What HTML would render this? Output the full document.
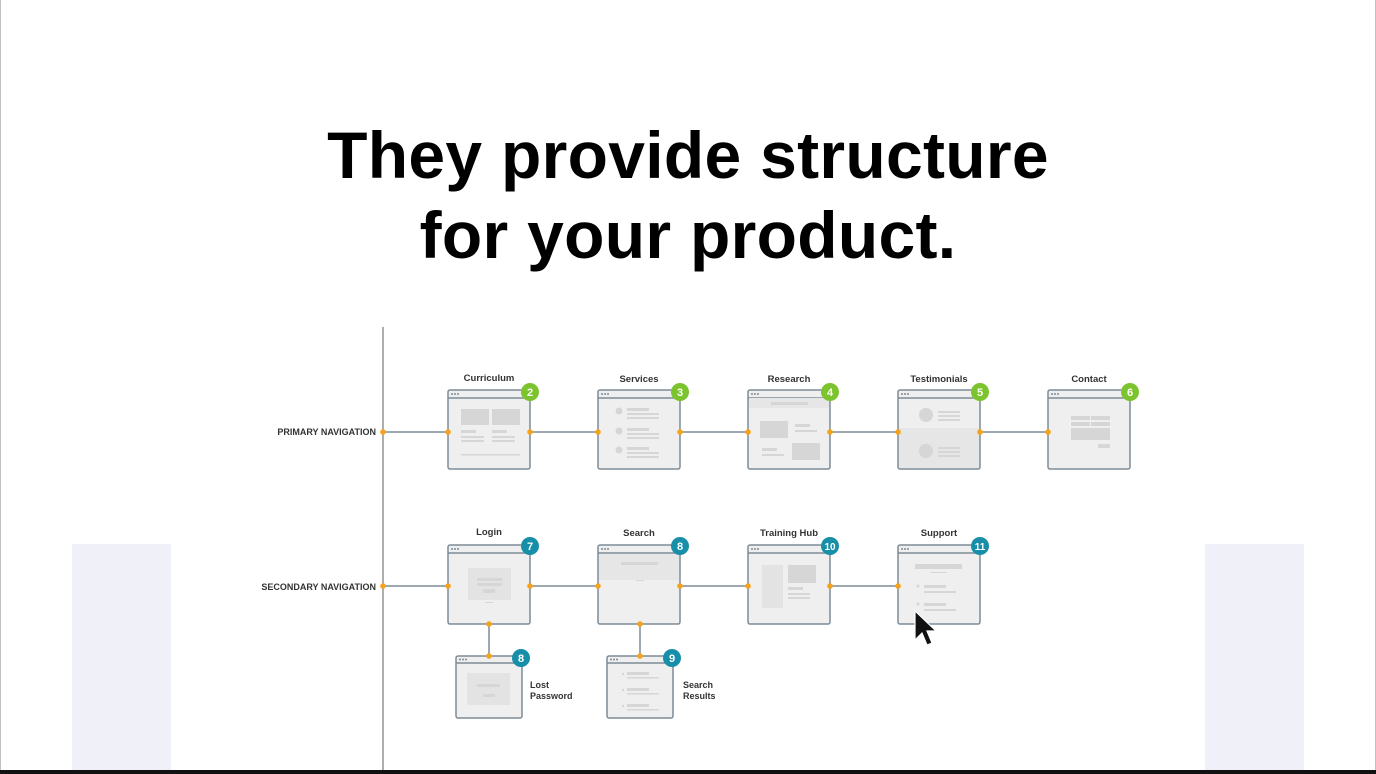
<!DOCTYPE html>
<html><head><meta charset="utf-8"><style>
html,body{margin:0;padding:0;background:#fff}
body{width:1376px;height:774px;position:relative;overflow:hidden;font-family:"Liberation Sans",sans-serif}
.title{position:absolute;left:0;width:1376px;text-align:center;font-weight:bold;font-size:66px;color:#000;letter-spacing:0.3px;line-height:80px;top:115px}
</style></head><body>
<div style="position:absolute;left:0;top:0;width:1px;height:774px;background:#c0c0c0"></div>
<div style="position:absolute;right:0;top:0;width:1px;height:774px;background:#c0c0c0"></div>
<div style="position:absolute;left:72px;top:544px;width:99px;height:226px;background:#f0f0f8"></div>
<div style="position:absolute;left:1205px;top:544px;width:99px;height:226px;background:#f0f0f8"></div>
<div style="position:absolute;left:0;top:770px;width:1376px;height:4px;background:#111"></div>
<div class="title">They provide structure<br>for your product.</div>
<svg width="1376" height="774" style="position:absolute;left:0;top:0" font-family="Liberation Sans, sans-serif">
<defs>
<g id="fr"><rect x="0" y="0" width="82" height="79" rx="2" fill="#efefef" stroke="#7d8b95" stroke-width="1.5"/><line x1="0" y1="8" x2="82" y2="8" stroke="#7d8b95" stroke-width="1.5"/><circle cx="4" cy="4" r="1" fill="#7d8b95"/><circle cx="7" cy="4" r="1" fill="#7d8b95"/><circle cx="10" cy="4" r="1" fill="#7d8b95"/></g>
<g id="sf"><rect x="0" y="0" width="66" height="62" rx="2" fill="#efefef" stroke="#7d8b95" stroke-width="1.5"/><line x1="0" y1="7" x2="66" y2="7" stroke="#7d8b95" stroke-width="1.5"/><circle cx="4" cy="3.5" r="1" fill="#7d8b95"/><circle cx="7" cy="3.5" r="1" fill="#7d8b95"/><circle cx="10" cy="3.5" r="1" fill="#7d8b95"/></g>
</defs>
<line x1="383" y1="327" x2="383" y2="770" stroke="#777" stroke-width="1.2"/>
<g stroke="#7d8b95" stroke-width="1.5">
<line x1="383" y1="432" x2="1048" y2="432"/>
<line x1="383" y1="586" x2="898" y2="586"/>
<line x1="489" y1="623" x2="489" y2="656"/>
<line x1="640" y1="623" x2="640" y2="656"/>
</g>
<use href="#fr" x="448" y="390"/><use href="#fr" x="598" y="390"/><use href="#fr" x="748" y="390"/><use href="#fr" x="898" y="390"/><use href="#fr" x="1048" y="390"/>
<use href="#fr" x="448" y="545"/><use href="#fr" x="598" y="545"/><use href="#fr" x="748" y="545"/><use href="#fr" x="898" y="545"/>
<use href="#sf" x="456" y="656"/><use href="#sf" x="607" y="656"/>
<g fill="#d6d6d6">
<rect x="461" y="409" width="28" height="16"/><rect x="492" y="409" width="28" height="16"/>
<rect x="461" y="430" width="15" height="3"/><rect x="492" y="430" width="15" height="3"/>
<rect x="461" y="436" width="23" height="2"/><rect x="492" y="436" width="23" height="2"/>
<rect x="461" y="440" width="23" height="2"/><rect x="492" y="440" width="23" height="2"/>
<rect x="461" y="454" width="59" height="1.5"/>
<circle cx="619" cy="411" r="3.5"/><circle cx="619" cy="431" r="3.5"/><circle cx="619" cy="450" r="3.5"/>
<rect x="627" y="408" width="22" height="3"/><rect x="627" y="413" width="32" height="2"/><rect x="627" y="417" width="32" height="2"/>
<rect x="627" y="428" width="22" height="3"/><rect x="627" y="433" width="32" height="2"/><rect x="627" y="437" width="32" height="2"/>
<rect x="627" y="447" width="22" height="3"/><rect x="627" y="452" width="32" height="2"/><rect x="627" y="456" width="32" height="2"/>
<rect x="749" y="398" width="80" height="10" fill="#e6e6e6"/><rect x="771" y="402" width="37" height="3"/>
<rect x="760" y="421" width="28" height="17"/><rect x="795" y="424" width="15" height="3"/><rect x="795" y="430" width="22" height="2"/>
<rect x="762" y="448" width="15" height="3"/><rect x="762" y="454" width="22" height="2"/><rect x="792" y="443" width="28" height="17"/>
<rect x="899" y="428" width="80" height="40" fill="#e6e6e6"/>
<circle cx="926" cy="415" r="7"/><circle cx="926" cy="451" r="7"/>
<rect x="938" y="411" width="22" height="2"/><rect x="938" y="415" width="22" height="2"/><rect x="938" y="419" width="22" height="2"/>
<rect x="938" y="447" width="22" height="2"/><rect x="938" y="451" width="22" height="2"/><rect x="938" y="455" width="22" height="2"/>
<rect x="1071" y="416" width="19" height="4"/><rect x="1091" y="416" width="19" height="4"/><rect x="1071" y="422" width="19" height="4"/><rect x="1091" y="422" width="19" height="4"/><rect x="1071" y="428" width="39" height="12"/><rect x="1098" y="444" width="12" height="4"/>
<rect x="468" y="568" width="43" height="32" fill="#e3e3e3"/><rect x="477" y="578" width="25" height="3"/><rect x="477" y="583" width="25" height="3"/><rect x="483" y="589" width="12" height="4"/><rect x="485" y="602" width="8" height="1"/>
<rect x="599" y="554" width="80" height="26" fill="#e6e6e6"/><rect x="621" y="562" width="37" height="3"/><rect x="636" y="580" width="8" height="1"/>
<rect x="762" y="565" width="21" height="43" fill="#e3e3e3"/><rect x="788" y="565" width="28" height="18"/><rect x="788" y="587" width="15" height="3"/><rect x="788" y="593" width="22" height="2"/><rect x="788" y="597" width="22" height="2"/>
<rect x="915" y="564" width="47" height="5"/><rect x="930" y="572" width="17" height="1"/>
<rect x="924" y="585" width="22" height="3"/><rect x="924" y="591" width="32" height="2"/><rect x="924" y="603" width="22" height="3"/><rect x="924" y="609" width="32" height="2"/><circle cx="918" cy="586" r="1.5"/><circle cx="918" cy="604" r="1.5"/>
<rect x="467" y="673" width="43" height="32" fill="#e3e3e3"/><rect x="477" y="684" width="23" height="3"/><rect x="483" y="694" width="12" height="3"/>
<circle cx="623" cy="674" r="1.2"/><circle cx="623" cy="690" r="1.2"/><circle cx="623" cy="706" r="1.2"/>
<rect x="627" y="672" width="22" height="3"/><rect x="627" y="677" width="32" height="1.5"/><rect x="627" y="688" width="22" height="3"/><rect x="627" y="693" width="32" height="1.5"/><rect x="627" y="704" width="22" height="3"/><rect x="627" y="709" width="32" height="1.5"/>
</g>
<g fill="#f5a31a">
<circle cx="383" cy="432" r="2.8"/><circle cx="448" cy="432" r="2.8"/><circle cx="530" cy="432" r="2.8"/><circle cx="598" cy="432" r="2.8"/><circle cx="680" cy="432" r="2.8"/><circle cx="748" cy="432" r="2.8"/><circle cx="830" cy="432" r="2.8"/><circle cx="898" cy="432" r="2.8"/><circle cx="980" cy="432" r="2.8"/><circle cx="1048" cy="432" r="2.8"/>
<circle cx="383" cy="586" r="2.8"/><circle cx="448" cy="586" r="2.8"/><circle cx="530" cy="586" r="2.8"/><circle cx="598" cy="586" r="2.8"/><circle cx="680" cy="586" r="2.8"/><circle cx="748" cy="586" r="2.8"/><circle cx="830" cy="586" r="2.8"/><circle cx="898" cy="586" r="2.8"/>
<circle cx="489" cy="624" r="2.8"/><circle cx="489" cy="656" r="2.8"/><circle cx="640" cy="624" r="2.8"/><circle cx="640" cy="656" r="2.8"/>
</g>
<g font-size="11" font-weight="bold" fill="#fff" text-anchor="middle">
<circle cx="530" cy="392" r="9" fill="#7cc42d"/><text x="530" y="396">2</text>
<circle cx="680" cy="392" r="9" fill="#7cc42d"/><text x="680" y="396">3</text>
<circle cx="830" cy="392" r="9" fill="#7cc42d"/><text x="830" y="396">4</text>
<circle cx="980" cy="392" r="9" fill="#7cc42d"/><text x="980" y="396">5</text>
<circle cx="1130" cy="392" r="9" fill="#7cc42d"/><text x="1130" y="396">6</text>
<circle cx="530" cy="546" r="9" fill="#188fa8"/><text x="530" y="550">7</text>
<circle cx="680" cy="546" r="9" fill="#188fa8"/><text x="680" y="550">8</text>
<circle cx="830" cy="546" r="9" fill="#188fa8"/><text x="830" y="550" font-size="10">10</text>
<circle cx="980" cy="546" r="9" fill="#188fa8"/><text x="980" y="550" font-size="10">11</text>
<circle cx="521" cy="658" r="9" fill="#188fa8"/><text x="521" y="662">8</text>
<circle cx="672" cy="658" r="9" fill="#188fa8"/><text x="672" y="662">9</text>
</g>
<g font-size="9.5" font-weight="bold" fill="#333" text-anchor="middle">
<text x="489" y="381">Curriculum</text><text x="639" y="382">Services</text><text x="789" y="382">Research</text><text x="939" y="382">Testimonials</text><text x="1089" y="382">Contact</text>
<text x="489" y="535">Login</text><text x="639" y="536">Search</text><text x="789" y="536">Training Hub</text><text x="939" y="536">Support</text>
</g>
<g font-size="9" font-weight="bold" fill="#333">
<text x="530" y="688">Lost</text><text x="530" y="699">Password</text>
<text x="683" y="688">Search</text><text x="683" y="699">Results</text>
<text x="376" y="435" text-anchor="end" font-size="9">PRIMARY NAVIGATION</text>
<text x="376" y="590" text-anchor="end" font-size="9">SECONDARY NAVIGATION</text>
</g>
<path d="M915 611 L915 640 L922 633 L927 645 L932 643 L927 631 L936 631 Z" fill="#111" stroke="#fff" stroke-width="1.2"/>
</svg>
</body></html>
